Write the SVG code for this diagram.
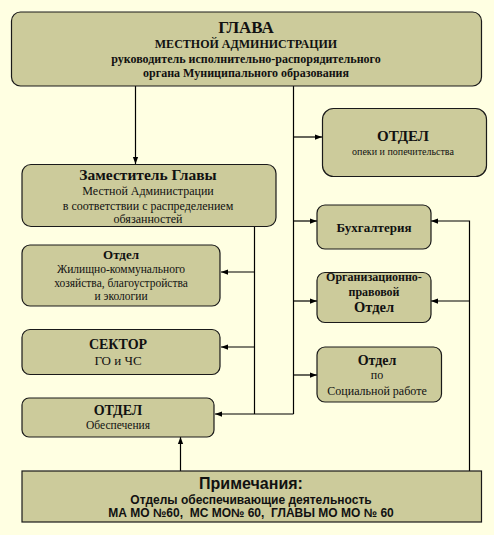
<svg xmlns="http://www.w3.org/2000/svg" width="494" height="535" viewBox="0 0 494 535">
<defs>
<style>
.box{fill:#cccb9b;stroke:#1a1a1a;stroke-width:1.2}
.ln{fill:none;stroke:#000;stroke-width:1.2}
.s{font-family:"Liberation Serif","Times New Roman",serif;fill:#111;text-anchor:middle}
.a{font-family:"Liberation Sans",Arial,sans-serif;fill:#111;text-anchor:middle;font-weight:bold}
.b{font-weight:bold}
</style>
<marker id="ar" viewBox="0 0 8 8" refX="8" refY="4" markerWidth="7" markerHeight="7" orient="auto" markerUnits="userSpaceOnUse">
<path d="M0,1 L8,4 L0,7 z" fill="#000"/>
</marker>
</defs>
<rect width="494" height="535" fill="#ffffe2"/>
<g id="connectors">
<path class="ln" d="M135.5,86 V164" marker-end="url(#ar)"/>
<path class="ln" d="M293.5,86 V414"/>
<path class="ln" d="M293.5,137 H322" marker-end="url(#ar)"/>
<path class="ln" d="M293.5,221 H317" marker-end="url(#ar)"/>
<path class="ln" d="M293.5,301 H317" marker-end="url(#ar)"/>
<path class="ln" d="M293.5,375 H317" marker-end="url(#ar)"/>
<path class="ln" d="M254.5,227 V414"/>
<path class="ln" d="M254.5,272 H221" marker-end="url(#ar)"/>
<path class="ln" d="M254.5,347 H221" marker-end="url(#ar)"/>
<path class="ln" d="M293.5,414 H215" marker-end="url(#ar)"/>
<path class="ln" d="M180.5,471 V437" marker-end="url(#ar)"/>
<path class="ln" d="M469.5,471 V221 H431" marker-end="url(#ar)"/>
<path class="ln" d="M469.5,301 H431" marker-end="url(#ar)"/>
</g>
<g id="glava">
<rect class="box" x="11.5" y="12" width="470" height="74" rx="9"/>
<text class="s b" x="246" y="33" font-size="17">ГЛАВА</text>
<text class="s b" x="246" y="48" font-size="12">МЕСТНОЙ АДМИНИСТРАЦИИ</text>
<text class="s b" x="246" y="63" font-size="12">руководитель исполнительно-распорядительного</text>
<text class="s b" x="246" y="77" font-size="12">органа Муниципального образования</text>
</g>
<g id="zam">
<rect class="box" x="22" y="164.5" width="254" height="62" rx="9"/>
<text class="s b" x="148" y="180" font-size="15.5">Заместитель Главы</text>
<text class="s" x="148" y="195" font-size="12">Местной Администрации</text>
<text class="s" x="148" y="210" font-size="12">в соответствии с распределением</text>
<text class="s" x="148" y="223" font-size="12">обязанностей</text>
</g>
<g id="opeka">
<rect class="box" x="322.5" y="108.5" width="164" height="68" rx="11"/>
<text class="s b" x="403" y="141" font-size="15">ОТДЕЛ</text>
<text class="s" x="403" y="155" font-size="10">опеки и попечительства</text>
</g>
<g id="buh">
<rect class="box" x="317" y="205" width="114" height="44" rx="8"/>
<text class="s b" x="374" y="232" font-size="13">Бухгалтерия</text>
</g>
<g id="orgpravo">
<rect class="box" x="317" y="272.5" width="114" height="50" rx="8"/>
<text class="s b" x="374" y="281" font-size="12">Организационно-</text>
<text class="s b" x="374" y="296" font-size="12">правовой</text>
<text class="s b" x="374" y="312" font-size="14.5">Отдел</text>
</g>
<g id="social">
<rect class="box" x="317" y="347" width="124.5" height="55" rx="8"/>
<text class="s b" x="377" y="365" font-size="14">Отдел</text>
<text class="s" x="377" y="379" font-size="12">по</text>
<text class="s" x="377" y="395" font-size="12">Социальной работе</text>
</g>
<g id="zhkh">
<rect class="box" x="22" y="245" width="198" height="61" rx="8"/>
<text class="s b" x="121" y="259" font-size="13">Отдел</text>
<text class="s" x="121" y="273" font-size="11.5">Жилищно-коммунального</text>
<text class="s" x="121" y="287" font-size="11.5">хозяйства, благоустройства</text>
<text class="s" x="121" y="300" font-size="11.5">и экологии</text>
</g>
<g id="sektor">
<rect class="box" x="22" y="329.5" width="198" height="45" rx="8"/>
<text class="s b" x="118" y="349" font-size="14">СЕКТОР</text>
<text class="s" x="118" y="365" font-size="13">ГО и ЧС</text>
</g>
<g id="obesp">
<rect class="box" x="22" y="398" width="192" height="39" rx="7"/>
<text class="s b" x="118" y="415" font-size="14">ОТДЕЛ</text>
<text class="s" x="118" y="429" font-size="11.5">Обеспечения</text>
</g>
<g id="notes">
<rect class="box" x="22" y="471" width="459.5" height="51" rx="0"/>
<text class="a" x="251" y="489" font-size="16">Примечания:</text>
<text class="a" x="251" y="504" font-size="12">Отделы обеспечивающие деятельность</text>
<text class="a" x="251" y="517" font-size="12" xml:space="preserve">МА МО №60,  МС МО№ 60,  ГЛАВЫ МО МО № 60</text>
</g>
</svg>
